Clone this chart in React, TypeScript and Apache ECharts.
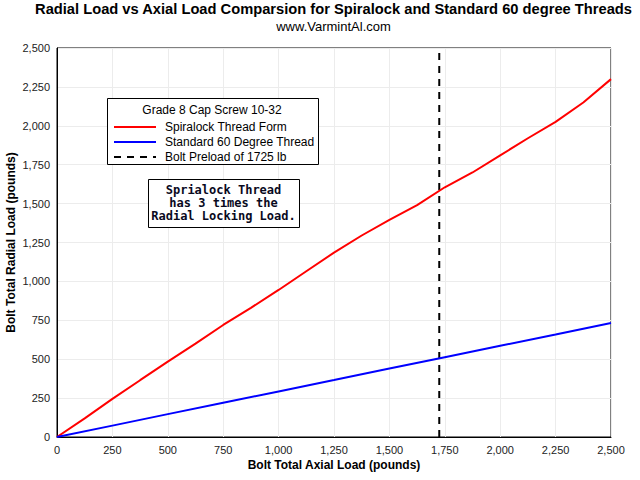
import React, { useEffect, useRef } from "react";
import * as echarts from "echarts";

const axialLoad = [0, 125, 250, 375, 500, 625, 750, 875, 1000, 1125, 1250, 1375, 1500, 1625, 1750, 1875, 2000, 2125, 2250, 2375, 2500];
const spiralockLoad = [0, 120, 245, 365, 484, 600, 720, 830, 945, 1065, 1185, 1295, 1395, 1490, 1605, 1700, 1810, 1920, 2025, 2150, 2300];
const standardAxial = [0, 250, 500, 750, 1000, 1250, 1500, 1750, 2000, 2250, 2500];
const standardLoad = [0, 73, 147, 220, 293, 366, 440, 513, 586, 659, 733];
const preloadX = [1725, 1725];
const preloadY = [0, 2500];

const seriesNames = ["Spiralock Thread Form", "Standard 60 Degree Thread", "Bolt Preload of 1725 lb"];
const titleText = "Radial Load vs Axial Load Comparsion for Spiralock and Standard 60 degree Threads";
const subtitleText = "www.VarmintAl.com";
const legendTitle = "Grade 8 Cap Screw 10-32";
const noteLines = ["Sprialock Thread", "has 3 times the", "Radial Locking Load."];
const xName = "Bolt Total Axial Load (pounds)";
const yName = "Bolt Total Radial Load (pounds)";

const fmt = (v: number) => v.toLocaleString("en-US");

export default function App() {
  const ref = useRef<HTMLDivElement>(null);
  useEffect(() => {
    if (!ref.current) return;
    const chart = echarts.init(ref.current, null, { renderer: "svg" });
    const font = '"Liberation Sans", Arial, sans-serif';
    chart.setOption({
      animation: false,
      backgroundColor: "#fff",
      textStyle: { fontFamily: font },
      grid: {
        left: 57,
        right: 29,
        top: 48,
        bottom: 43,
        show: true,
        borderColor: "#000",
        borderWidth: 1,
        containLabel: false,
        outerBoundsMode: "none",
      },
      xAxis: {
        type: "value",
        min: 0,
        max: 2500,
        interval: 250,
        name: xName,
        nameLocation: "middle",
        nameGap: 22,
        nameMoveOverlap: false,
        nameTextStyle: { fontSize: 12, fontWeight: "bold", color: "#000" },
        axisLine: { lineStyle: { color: "#000", width: 1 } },
        axisTick: { show: false },
        axisLabel: { formatter: fmt, fontSize: 11, color: "#222", margin: 7 },
        splitLine: { show: true, lineStyle: { color: "#ececec" } },
      },
      yAxis: {
        type: "value",
        min: 0,
        max: 2500,
        interval: 250,
        name: yName,
        nameLocation: "middle",
        nameGap: 40,
        nameMoveOverlap: false,
        nameTextStyle: { fontSize: 12, fontWeight: "bold", color: "#000" },
        axisLine: { show: true, lineStyle: { color: "#000", width: 1 } },
        axisTick: { show: false },
        axisLabel: { formatter: fmt, fontSize: 11, color: "#222", margin: 7 },
        splitLine: { show: true, lineStyle: { color: "#ececec" } },
      },
      legend: {
        orient: "vertical",
        left: 108,
        top: 116,
        itemWidth: 42,
        itemHeight: 11,
        itemGap: 3,
        z: 30,
        itemStyle: { opacity: 0, borderWidth: 0 },
        textStyle: { fontSize: 12, color: "#000", padding: [0, 0, 0, 4] },
        data: seriesNames,
      },
      graphic: [
        {
          type: "text",
          z: 20,
          x: 333.5,
          y: 9,
          style: {
            text: titleText,
            align: "center",
            verticalAlign: "middle",
            font: 'bold 14.7px "Liberation Sans", Arial, sans-serif',
            fill: "#000",
          },
        },
        {
          type: "text",
          z: 20,
          x: 333.5,
          y: 26,
          style: {
            text: subtitleText,
            align: "center",
            verticalAlign: "middle",
            font: '13px "Liberation Sans", Arial, sans-serif',
            fill: "#000",
          },
        },
        {
          type: "rect",
          z: 20,
          x: 107.5,
          y: 98.5,
          shape: { width: 211, height: 66 },
          style: { fill: "#fff", stroke: "#000", lineWidth: 1 },
        },
        {
          type: "text",
          z: 21,
          x: 212,
          y: 110,
          style: {
            text: legendTitle,
            align: "center",
            verticalAlign: "middle",
            font: '12px "Liberation Sans", Arial, sans-serif',
            fill: "#000",
          },
        },
        {
          type: "rect",
          z: 20,
          x: 148.5,
          y: 179.5,
          shape: { width: 151, height: 48 },
          style: { fill: "#fff", stroke: "#000", lineWidth: 1 },
        },
        {
          type: "text",
          z: 21,
          x: 223.5,
          y: 202.5,
          style: {
            text: noteLines.join("\n"),
            align: "center",
            verticalAlign: "middle",
            font: 'bold 12px "DejaVu Sans Mono", monospace',
            lineHeight: 13,
            fill: "#0a0a1e",
          },
        },
      ],
      series: [
        {
          name: seriesNames[0],
          type: "line",
          symbol: "none",
          color: "#ff0000",
          lineStyle: { width: 2, color: "#ff0000" },
          data: axialLoad.map((x, i) => [x, spiralockLoad[i]]),
          z: 3,
        },
        {
          name: seriesNames[1],
          type: "line",
          symbol: "none",
          color: "#0000ff",
          lineStyle: { width: 2, color: "#0000ff" },
          data: standardAxial.map((x, i) => [x, standardLoad[i]]),
          z: 3,
        },
        {
          name: seriesNames[2],
          type: "line",
          symbol: "none",
          color: "#000",
          lineStyle: { width: 2, color: "#000", type: [7, 6] },
          data: preloadX.map((x, i) => [x, preloadY[i]]),
          z: 2,
        },
      ],
    });
    return () => chart.dispose();
  }, []);
  return <div ref={ref} style={{ position: "fixed", left: 0, top: 0, width: 640, height: 480 }} />;
}
